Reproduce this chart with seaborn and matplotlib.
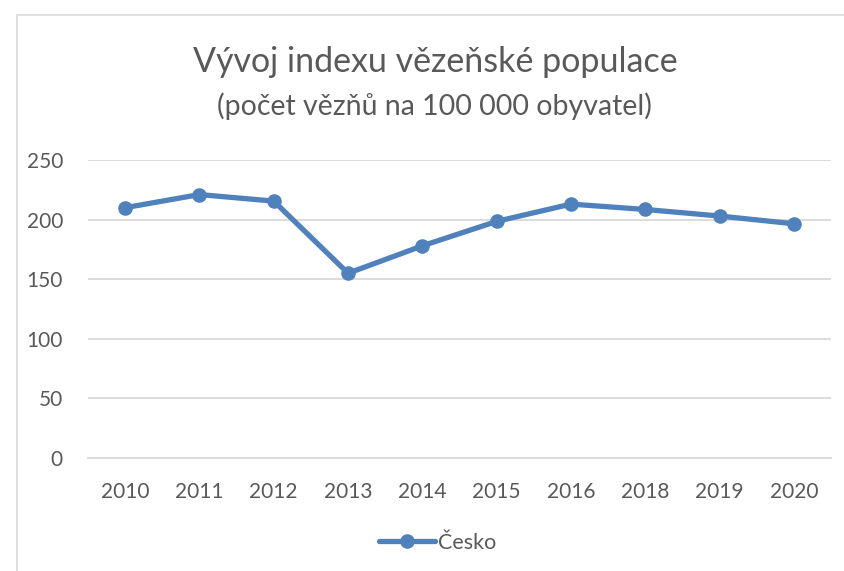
import matplotlib
matplotlib.use("Agg")
import matplotlib.pyplot as plt
import seaborn as sns
import pandas as pd
from matplotlib.patches import Rectangle

years = ["2010", "2011", "2012", "2013", "2014", "2015", "2016", "2018", "2019", "2020"]
values = [210, 221, 215.5, 155, 178, 198.5, 213, 208.5, 203, 196.5]
series_name = "Česko"
title = "Vývoj indexu vězeňské populace"
subtitle = "(počet vězňů na 100 000 obyvatel)"
yticks = [0, 50, 100, 150, 200, 250]

sns.set_theme(style="white")
plt.rcParams["font.family"] = ["Lato", "DejaVu Sans"]

W, H = 845, 571
fig = plt.figure(figsize=(W / 100, H / 100), dpi=100)
ax = fig.add_axes([88 / W, 1 - 458 / H, (831 - 88) / W, (458 - 160) / H])

df = pd.DataFrame({"Rok": years, "Hodnota": values, "Řada": series_name})
color = "#4F81BD"
sns.lineplot(data=df, x="Rok", y="Hodnota", ax=ax, color=color, linewidth=3.8,
             marker="o", markersize=10.5, markeredgewidth=0, label=series_name, sort=False)

ax.set_xlim(-0.5, len(years) - 0.5)
ax.set_ylim(0, 250)
ax.set_yticks(yticks)
ax.yaxis.grid(True, color="#D9D9D9", linewidth=1.3)
ax.xaxis.grid(False)
for s in ["top", "right", "left"]:
    ax.spines[s].set_visible(False)
ax.spines["bottom"].set_color("#D9D9D9")
ax.spines["bottom"].set_linewidth(1.3)
ax.set_xlabel("")
ax.set_ylabel("")
ax.tick_params(axis="both", length=0, labelsize=15, colors="#595959")
ax.tick_params(axis="x", pad=17.5)
ax.tick_params(axis="y", pad=18)

fig.text(435 / W, 1 - 62 / H, title, ha="center", va="center", fontsize=24.5, color="#595959")
fig.text(434 / W, 1 - 106 / H, subtitle, ha="center", va="center", fontsize=20.5, color="#595959")

leg = ax.legend(loc="center", bbox_to_anchor=(438 / W, 1 - 543 / H), bbox_transform=fig.transFigure,
                frameon=False, fontsize=15.5, handlelength=2.6, handletextpad=0.15)
for t in leg.get_texts():
    t.set_color("#595959")

fig.patches.append(Rectangle((17 / W, -0.1), 1.2, 1 - 15 / H + 0.1, transform=fig.transFigure,
                             fill=False, edgecolor="#D9D9D9", linewidth=1.2))

fig.savefig("out.png", dpi=100, facecolor="white")
